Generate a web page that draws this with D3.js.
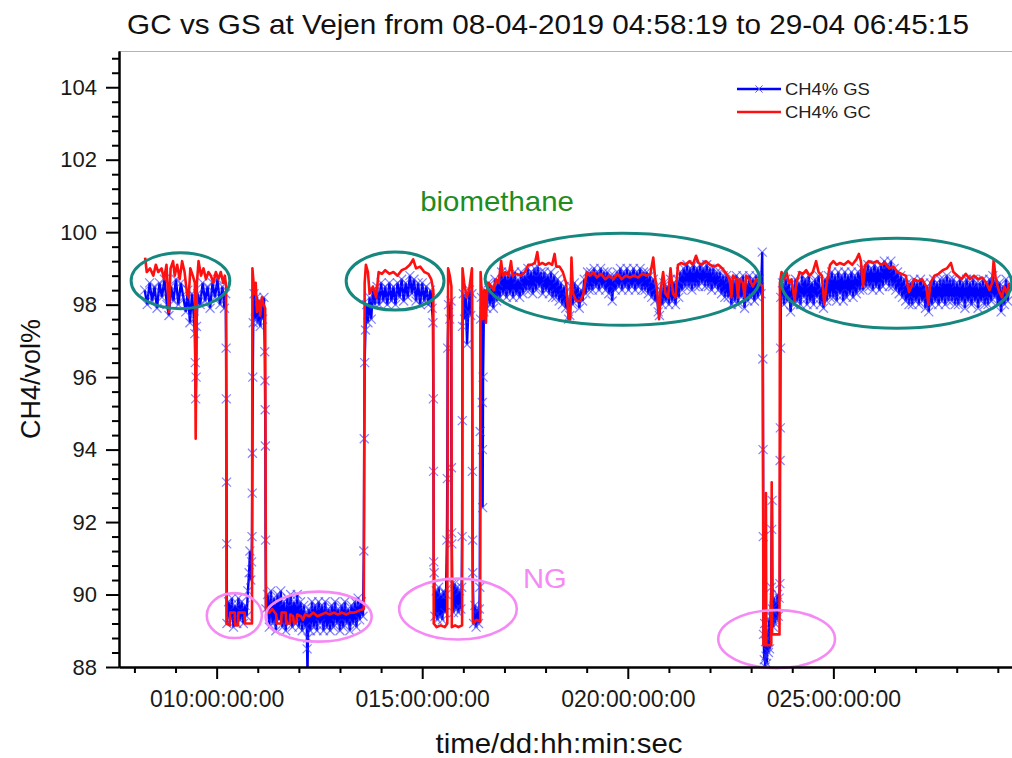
<!DOCTYPE html>
<meta charset="utf-8">
<script src="https://d3js.org/d3.v7.min.js"></script>
<style>
  body { margin: 0; background: #fff; }
  text { font-family: Arial, "Liberation Sans", sans-serif; }
</style>
<div id="chart"></div>
<script>

// CH4 readings as [day of April, CH4 vol%]
var gsReadings = [
  [8.25,98.4],[8.31,98.0],[8.37,98.6],[8.43,98.1],[8.49,98.5],[8.55,97.9],[8.61,98.6],[8.67,98.2],[8.73,98.7],[8.79,98.0],
  [8.84,97.7],[8.89,98.5],[8.95,98.1],[9.01,98.7],[9.07,98.0],[9.13,98.6],[9.19,98.2],[9.25,97.8],[9.30,98.4],[9.35,97.5],
  [9.40,98.3],[9.45,97.6],[9.47,97.2],[9.48,96.4],[9.49,95.4],[9.50,96.0],[9.51,97.4],[9.54,98.3],[9.60,98.0],[9.66,98.6],
  [9.72,98.1],[9.78,98.5],[9.84,97.9],[9.90,98.6],[9.96,98.2],[10.02,98.7],[10.08,98.0],[10.14,98.5],[10.19,97.9],[10.22,98.3],
  [10.23,96.8],[10.235,95.4],[10.24,93.1],[10.245,91.4],
  [10.25,89.2],[10.29,89.8],[10.33,89.3],[10.37,89.9],[10.41,89.1],[10.45,89.7],[10.49,89.2],[10.53,89.9],[10.57,89.3],[10.61,89.8],
  [10.65,89.2],[10.69,89.7],[10.73,89.4],[10.76,90.1],[10.79,90.6],[10.81,91.2],[10.83,90.4],[10.85,90.9],[10.86,91.6],[10.865,92.8],
  [10.87,93.9],[10.88,96.0],[10.89,97.5],[10.91,98.3],[10.94,97.6],[10.97,98.2],[11.00,97.5],[11.03,98.1],[11.06,97.4],[11.09,98.0],
  [11.12,97.6],[11.15,98.2],[11.17,96.7],[11.175,95.9],[11.18,95.1],[11.185,94.1],[11.19,91.5],
  [11.20,89.6],[11.24,90.0],[11.28,89.1],[11.32,90.1],[11.36,89.2],[11.40,89.9],[11.44,89.0],[11.48,90.0],[11.52,89.3],[11.56,90.1],
  [11.60,89.1],[11.64,89.8],[11.68,89.0],[11.72,89.9],[11.76,89.2],[11.80,90.0],[11.84,89.1],[11.88,89.8],[11.92,89.2],[11.96,90.0],
  [12.00,89.1],[12.04,89.8],[12.08,89.0],[12.12,89.7],[12.16,89.1],[12.19,89.5],[12.20,88.5],[12.21,87.8],[12.22,88.8],[12.24,89.6],
  [12.28,89.0],[12.32,89.8],[12.36,89.1],[12.40,89.7],[12.44,89.0],[12.48,89.8],[12.52,89.2],[12.56,89.7],[12.60,89.0],[12.64,89.8],
  [12.68,89.1],[12.72,89.6],[12.76,89.0],[12.80,89.7],[12.84,89.1],[12.88,89.8],[12.92,89.2],[12.96,89.6],[13.00,89.0],[13.04,89.7],
  [13.08,89.1],[13.12,89.8],[13.16,89.2],[13.20,89.6],[13.24,89.0],[13.28,89.7],[13.32,89.2],[13.36,89.8],[13.40,89.1],[13.44,89.9],
  [13.48,89.3],[13.52,89.8],[13.56,89.4],[13.58,91.2],[13.59,94.3],
  [13.60,96.4],[13.62,97.3],[13.65,98.0],[13.68,97.5],[13.72,98.2],[13.76,97.6],[13.80,98.4],[13.85,98.0],[13.90,98.5],[13.95,98.0],
  [14.00,98.6],[14.05,98.1],[14.10,98.5],[14.15,98.0],[14.20,98.6],[14.25,98.1],[14.30,98.5],[14.35,98.0],[14.40,98.6],[14.45,98.2],
  [14.50,98.7],[14.55,98.1],[14.60,98.6],[14.65,98.2],[14.70,98.8],[14.75,98.3],[14.80,98.7],[14.85,98.1],[14.90,98.6],[14.95,98.0],
  [15.00,98.6],[15.05,98.1],[15.10,98.5],[15.15,98.0],[15.20,98.4],[15.24,97.9],[15.26,97.5],[15.27,95.4],[15.275,93.4],[15.28,90.9],
  [15.29,90.6],[15.31,89.4],[15.34,90.1],[15.37,89.3],[15.40,90.2],[15.43,89.4],[15.46,90.0],[15.49,89.3],[15.52,90.1],[15.55,89.5],
  [15.58,90.0],[15.60,91.5],[15.61,93.2],[15.62,96.8],[15.64,98.0],[15.67,97.6],[15.70,98.1],[15.71,93.5],[15.715,91.7],[15.72,91.4],
  [15.73,90.3],[15.76,89.5],[15.79,90.3],[15.82,89.6],[15.85,90.2],[15.88,89.5],[15.91,90.1],[15.94,89.6],[15.96,90.2],[15.97,91.6],
  [15.975,94.8],[15.98,97.4],[16.00,98.3],[16.03,97.6],[16.06,98.2],[16.09,96.9],[16.12,97.8],[16.15,98.4],[16.18,97.7],[16.21,98.3],
  [16.22,93.4],[16.225,91.5],[16.23,90.6],[16.25,89.2],[16.28,89.7],[16.31,89.1],[16.34,89.6],[16.37,89.2],[16.39,89.6],[16.40,90.2],
  [16.41,94.5],[16.42,97.6],[16.44,98.2],[16.46,95.3],[16.465,94.0],[16.47,92.4],[16.48,96.0],[16.50,97.8],
  [16.53,98.4],[16.57,97.9],[16.61,98.6],[16.65,98.0],[16.69,98.5],[16.73,97.9],[16.77,98.7],[16.81,98.1],[16.85,98.6],[16.89,98.2],
  [16.93,98.9],[16.97,98.3],[17.01,98.8],[17.05,98.2],[17.09,98.9],[17.13,98.3],[17.17,98.8],[17.21,98.2],[17.25,98.9],[17.29,98.3],
  [17.33,98.7],[17.37,98.2],[17.41,98.9],[17.45,98.3],[17.49,98.8],[17.53,98.4],[17.57,99.0],[17.61,98.4],[17.65,98.9],[17.69,98.3],
  [17.73,99.0],[17.77,98.4],[17.81,99.05],[17.85,98.5],[17.89,98.9],[17.93,98.3],[17.97,98.9],[18.01,98.4],[18.05,98.8],[18.09,98.3],
  [18.13,98.9],[18.17,98.2],[18.21,98.8],[18.25,98.2],[18.29,98.7],[18.33,98.1],[18.37,98.6],[18.41,98.0],[18.45,98.5],[18.49,97.9],
  [18.53,98.2],[18.56,97.6],[18.59,97.7],[18.62,98.5],[18.66,98.0],[18.70,98.6],[18.74,98.1],[18.78,98.5],[18.82,97.9],[18.86,98.4],
  [18.90,98.1],[18.94,98.7],[18.98,98.3],[19.02,98.9],[19.06,98.4],[19.10,98.9],[19.14,98.4],[19.18,99.0],[19.22,98.5],[19.26,98.9],
  [19.30,98.4],[19.34,99.0],[19.38,98.5],[19.42,98.9],[19.46,98.4],[19.50,98.9],[19.54,98.3],[19.58,98.8],[19.62,98.1],[19.66,98.8],
  [19.70,98.4],[19.74,98.9],[19.78,98.5],[19.82,99.0],[19.86,98.4],[19.90,98.9],[19.94,98.5],[19.98,99.0],[20.02,98.4],[20.06,98.9],
  [20.10,98.5],[20.14,99.0],[20.18,98.4],[20.22,98.9],[20.26,98.5],[20.30,99.0],[20.34,98.4],[20.38,98.9],[20.42,98.4],[20.46,98.9],
  [20.50,98.3],[20.54,98.8],[20.58,98.2],[20.62,98.7],[20.66,98.1],[20.70,98.5],[20.74,97.8],[20.77,97.7],[20.80,98.4],[20.84,98.0],
  [20.88,98.6],[20.92,98.1],[20.96,98.5],[21.00,98.0],[21.04,98.7],[21.08,98.1],[21.12,98.6],[21.16,98.0],[21.20,98.7],[21.24,98.2],
  [21.28,98.9],[21.32,98.4],[21.36,99.0],[21.40,98.5],[21.44,99.1],[21.48,98.5],[21.52,99.0],[21.56,98.4],[21.60,99.1],[21.64,98.5],
  [21.68,99.0],[21.72,98.5],[21.76,99.1],[21.80,98.6],[21.84,99.0],[21.88,98.5],[21.92,99.1],[21.96,98.5],[22.00,99.0],[22.04,98.4],
  [22.08,99.0],[22.12,98.5],[22.16,98.9],[22.20,98.4],[22.24,98.9],[22.28,98.3],[22.32,98.8],[22.36,98.2],[22.40,98.8],[22.44,98.2],
  [22.48,98.7],[22.52,98.0],[22.56,98.7],[22.60,98.1],[22.64,98.8],[22.68,98.0],[22.72,98.7],[22.76,98.2],[22.80,98.8],[22.84,97.9],
  [22.88,98.6],[22.92,98.1],[22.96,98.8],[23.00,98.2],[23.04,98.7],[23.08,98.1],[23.12,98.8],[23.16,98.2],[23.20,98.7],[23.24,98.3],
  [23.27,99.45],[23.285,96.5],[23.29,94.0],[23.295,91.6],
  [23.30,88.9],[23.32,88.2],[23.33,89.2],[23.34,88.0],[23.35,88.7],[23.36,88.3],[23.37,89.0],[23.38,88.1],[23.40,88.8],[23.42,88.4],
  [23.44,89.3],[23.45,88.5],[23.47,89.4],[23.49,90.2],[23.50,91.8],[23.51,92.6],[23.52,89.6],[23.54,89.1],[23.56,89.9],[23.58,89.2],
  [23.60,89.8],[23.62,89.3],[23.64,90.0],[23.66,89.4],[23.68,89.9],[23.70,90.3],[23.705,93.7],[23.71,94.6],[23.715,96.8],[23.72,98.2],
  [23.76,98.6],[23.80,98.0],[23.84,98.7],[23.88,98.1],[23.92,98.6],[23.96,97.8],[24.00,98.5],[24.04,98.0],[24.08,98.7],[24.12,98.1],
  [24.16,98.6],[24.20,98.0],[24.24,98.8],[24.28,98.2],[24.32,98.7],[24.36,98.0],[24.40,98.8],[24.44,98.1],[24.48,98.6],[24.52,98.0],
  [24.56,98.7],[24.60,98.2],[24.64,98.8],[24.68,98.0],[24.72,98.5],[24.76,97.9],[24.80,98.7],[24.84,98.1],[24.88,98.8],[24.92,98.2],
  [24.96,98.9],[25.00,98.2],[25.04,98.8],[25.08,98.1],[25.12,98.9],[25.16,98.3],[25.20,98.8],[25.24,98.1],[25.28,98.9],[25.32,98.2],
  [25.36,98.8],[25.40,98.3],[25.44,98.9],[25.48,98.2],[25.52,98.8],[25.56,98.3],[25.60,98.9],[25.64,98.4],[25.68,99.0],[25.72,98.4],
  [25.76,99.0],[25.80,98.5],[25.84,99.1],[25.88,98.5],[25.92,99.0],[25.96,98.4],[26.00,99.1],[26.04,98.5],[26.08,99.0],[26.12,98.4],
  [26.16,99.1],[26.20,98.5],[26.24,99.2],[26.28,98.6],[26.32,99.1],[26.36,98.5],[26.40,99.2],[26.44,98.5],[26.48,99.0],[26.52,98.4],
  [26.56,98.9],[26.60,98.3],[26.64,98.8],[26.68,98.2],[26.72,98.7],[26.76,98.1],[26.80,98.6],[26.84,98.0],[26.88,98.6],[26.92,98.0],
  [26.96,98.7],[27.00,98.1],[27.04,98.6],[27.08,98.0],[27.12,98.7],[27.16,98.1],[27.20,98.6],[27.24,97.9],[27.28,98.5],[27.32,97.8],
  [27.36,98.6],[27.40,98.0],[27.44,98.7],[27.48,98.1],[27.52,98.6],[27.56,98.0],[27.60,98.7],[27.64,98.1],[27.68,98.7],[27.72,98.0],
  [27.76,98.8],[27.80,98.1],[27.84,98.7],[27.88,98.1],[27.92,98.7],[27.96,98.0],[28.00,98.6],[28.04,98.0],[28.08,98.7],[28.12,98.1],
  [28.16,98.6],[28.20,97.9],[28.24,98.7],[28.28,98.1],[28.32,98.6],[28.36,98.0],[28.40,98.7],[28.44,98.1],[28.48,98.6],[28.52,97.9],
  [28.56,98.6],[28.60,98.1],[28.64,98.7],[28.68,98.0],[28.72,98.6],[28.76,98.0],[28.80,98.7],[28.84,98.1],[28.88,98.8],[28.92,98.2],
  [28.96,98.7],[29.00,98.0],[29.04,98.6],[29.08,97.8],[29.12,98.5],[29.16,98.0],[29.20,98.7],[29.24,98.1],[29.28,98.5]
];

var gcReadings = [
  [8.26,99.3],[8.30,98.9],[8.38,99.0],[8.46,98.8],[8.52,99.1],[8.58,98.9],[8.66,99.0],[8.72,98.7],[8.78,99.1],[8.84,97.8],
  [8.88,99.0],[8.94,99.2],[8.98,98.8],[9.04,99.1],[9.10,98.7],[9.16,99.2],[9.22,98.9],[9.28,98.3],[9.32,98.2],[9.36,99.0],
  [9.42,98.8],[9.47,98.6],[9.49,94.3],[9.52,98.6],[9.56,99.2],[9.62,98.8],[9.68,99.0],[9.74,98.7],[9.80,98.9],[9.86,98.8],
  [9.92,98.6],[9.98,98.9],[10.04,98.7],[10.10,98.9],[10.16,98.6],[10.20,98.8],[10.23,98.5],
  [10.24,89.2],[10.32,89.15],[10.33,89.5],[10.44,89.5],[10.45,89.15],[10.52,89.15],[10.53,89.5],[10.68,89.5],[10.69,89.2],[10.86,89.2],
  [10.87,99.0],[10.92,98.3],[10.95,98.6],[10.98,97.8],[11.02,98.1],[11.06,97.7],[11.10,98.2],[11.14,98.0],[11.18,97.9],
  [11.20,89.55],[11.28,89.5],[11.35,89.6],[11.45,89.45],[11.46,89.2],[11.57,89.2],[11.58,89.5],[11.68,89.5],[11.69,89.2],[11.78,89.2],
  [11.79,89.45],[11.86,89.4],[11.88,89.2],[11.94,89.25],[11.96,89.45],[12.05,89.4],[12.10,89.3],[12.15,89.45],[12.25,89.4],[12.35,89.5],
  [12.45,89.4],[12.55,89.45],[12.65,89.5],[12.75,89.45],[12.85,89.5],[12.95,89.45],[13.05,89.5],[13.15,89.45],[13.25,89.5],[13.35,89.5],
  [13.45,89.55],[13.58,89.6],
  [13.60,98.6],[13.63,99.1],[13.68,98.9],[13.72,98.3],[13.80,98.5],[13.88,98.2],[13.94,98.9],[14.02,98.85],[14.10,98.95],[14.20,98.85],
  [14.30,98.9],[14.40,98.8],[14.50,98.95],[14.60,99.0],[14.70,99.1],[14.78,99.25],[14.85,99.0],[14.95,99.05],[15.05,98.9],[15.15,98.85],
  [15.22,98.7],[15.27,98.4],
  [15.28,89.2],[15.35,89.1],[15.45,89.15],[15.55,89.1],[15.61,89.2],
  [15.63,99.0],[15.67,98.8],[15.71,98.5],
  [15.72,89.1],[15.80,89.15],[15.88,89.1],[15.97,89.15],
  [15.98,99.0],[16.02,98.6],[16.08,98.2],[16.14,98.4],[16.21,99.0],
  [16.23,89.3],[16.25,89.2],[16.32,89.3],[16.41,89.25],
  [16.42,98.9],[16.45,98.3],[16.48,97.6],[16.51,98.4],[16.55,97.5],[16.58,98.4],[16.62,98.6],[16.68,98.5],[16.74,98.4],[16.80,98.7],
  [16.86,98.6],[16.92,99.2],[16.96,98.8],[17.02,98.9],[17.10,98.8],[17.16,99.2],[17.20,98.8],[17.30,98.85],[17.40,98.8],[17.50,98.9],
  [17.58,99.1],[17.66,99.1],[17.74,99.15],[17.80,99.45],[17.84,99.1],[17.92,99.15],[18.00,99.1],[18.08,99.15],[18.16,99.1],[18.22,99.4],
  [18.26,99.05],[18.34,99.05],[18.42,98.9],[18.50,98.6],[18.56,97.6],[18.60,97.6],[18.63,99.3],[18.67,98.3],[18.75,98.1],[18.85,98.1],
  [18.92,98.3],[19.00,98.9],[19.08,98.8],[19.16,98.9],[19.25,98.75],[19.35,98.85],[19.45,98.7],[19.55,98.8],[19.65,98.7],[19.75,98.85],
  [19.85,98.7],[19.95,98.8],[20.05,98.75],[20.15,98.8],[20.25,98.75],[20.35,98.85],[20.45,98.8],[20.55,98.85],[20.62,99.3],[20.66,98.8],
  [20.72,98.3],[20.76,97.6],[20.80,98.4],[20.86,98.9],[20.92,98.3],[20.98,98.2],[21.04,99.0],[21.10,98.3],[21.16,98.2],[21.22,99.1],
  [21.30,99.15],[21.40,99.1],[21.50,99.2],[21.58,99.1],[21.66,99.35],[21.72,99.15],[21.80,99.1],[21.90,99.2],[22.00,99.1],[22.10,99.05],
  [22.20,99.1],[22.30,99.0],[22.40,98.85],[22.48,98.7],[22.52,98.2],[22.56,98.8],[22.64,98.7],[22.68,98.2],[22.72,98.7],[22.80,98.6],
  [22.84,98.2],[22.88,98.8],[22.96,98.7],[23.04,98.5],[23.12,98.7],[23.20,98.6],[23.28,98.5],
  [23.30,88.6],[23.35,88.6],[23.36,92.8],[23.37,88.6],[23.49,88.6],[23.50,93.1],[23.51,88.9],[23.69,88.9],
  [23.70,98.6],[23.74,98.9],[23.80,98.7],[23.86,98.9],[23.92,98.6],[23.98,98.7],[24.06,98.1],[24.10,98.6],[24.18,98.9],[24.26,98.85],
  [24.34,98.95],[24.42,98.8],[24.50,98.9],[24.58,99.2],[24.64,98.9],[24.72,98.8],[24.78,98.0],[24.84,98.6],[24.92,99.1],[25.00,99.2],
  [25.08,99.1],[25.16,99.15],[25.26,99.1],[25.36,99.2],[25.46,99.1],[25.56,99.25],[25.62,99.4],[25.67,99.2],[25.72,98.5],[25.78,99.1],
  [25.86,99.2],[25.96,99.15],[26.06,99.2],[26.16,99.1],[26.26,99.15],[26.36,99.0],[26.46,99.05],[26.56,98.9],[26.66,98.85],[26.76,98.8],
  [26.84,98.35],[26.90,98.5],[26.96,98.7],[27.06,98.65],[27.16,98.7],[27.26,98.5],[27.31,98.0],[27.36,98.6],[27.46,98.8],[27.56,98.85],
  [27.66,98.95],[27.76,99.0],[27.86,99.15],[27.92,98.9],[28.02,98.8],[28.12,98.7],[28.22,98.85],[28.32,98.7],[28.42,98.8],[28.52,98.7],
  [28.62,98.75],[28.72,98.6],[28.80,98.4],[28.86,98.6],[28.90,99.25],[28.95,98.7],[29.02,98.4],[29.10,98.2],[29.16,98.5],[29.22,98.3],
  [29.28,98.6]
];

// axis ticks
var xMajorDays = [10, 15, 20, 25];
var xTickLabels = ["010:00:00:00", "015:00:00:00", "020:00:00:00", "025:00:00:00"];
var xMinorDays = [8, 9, 11, 12, 13, 14, 16, 17, 18, 19, 21, 22, 23, 24, 26, 27, 28, 29];
var yMajorTicks = [88, 90, 92, 94, 96, 98, 100, 102, 104];

// hand-drawn rings: [centre day, centre vol%, half width in days, half height in vol%]
var biomethaneRings = [[9.12, 98.66, 1.20, 0.77], [14.34, 98.65, 1.19, 0.80], [19.87, 98.70, 3.34, 1.27], [26.54, 98.59, 2.80, 1.24]];
var ngRings = [[10.43, 89.42, 0.67, 0.62], [12.48, 89.39, 1.29, 0.69], [15.87, 89.60, 1.43, 0.84], [23.62, 88.77, 1.42, 0.80]];

// set the dimensions and margins of the graph
var margin = {top: 51, right: 0, bottom: 91, left: 119},
    width = 1012 - margin.left - margin.right,
    height = 758 - margin.top - margin.bottom;

var root = d3.select("#chart")
  .append("svg")
    .attr("width", 1012)
    .attr("height", 758);

var svg = root.append("g")
    .attr("transform", "translate(" + margin.left + "," + margin.top + ")");

var x = d3.scaleLinear().domain([7.625, 29.345]).range([0, width]);
var y = d3.scaleLinear().domain([88, 105]).range([height, 0]);

svg.append("clipPath").attr("id", "plotclip")
  .append("rect").attr("width", width).attr("height", height);

// top frame line
svg.append("line")
  .attr("x1", 0).attr("x2", width).attr("y1", 0.5).attr("y2", 0.5)
  .attr("stroke", "#b4b4b4").attr("stroke-width", 1);

var plot = svg.append("g").attr("clip-path", "url(#plotclip)");

var line = d3.line()
  .x(function(d) { return x(d[0]); })
  .y(function(d) { return y(d[1]); });

// GS: line + x markers
plot.append("path")
  .datum(gsReadings)
  .attr("d", line)
  .attr("fill", "none")
  .attr("stroke", "#0000ff")
  .attr("stroke-width", 2.4);

var cross = "M-4.5,-4.5L4.5,4.5M-4.5,4.5L4.5,-4.5";
plot.selectAll("path.gsmark")
  .data(gsReadings)
  .enter()
  .append("path")
  .attr("class", "gsmark")
  .attr("d", cross)
  .attr("transform", function(d) { return "translate(" + x(d[0]) + "," + y(d[1]) + ")"; })
  .attr("fill", "none")
  .attr("stroke", "#3030ff")
  .attr("stroke-opacity", 0.6)
  .attr("stroke-width", 1.2);

// GC on top
plot.append("path")
  .datum(gcReadings)
  .attr("d", line)
  .attr("fill", "none")
  .attr("stroke", "#ff1010")
  .attr("stroke-width", 2.6)
  .attr("stroke-linejoin", "round");

// rings
svg.selectAll("ellipse.bio")
  .data(biomethaneRings)
  .enter()
  .append("ellipse")
  .attr("cx", function(d) { return x(d[0]); })
  .attr("cy", function(d) { return y(d[1]); })
  .attr("rx", function(d) { return x(d[0] + d[2]) - x(d[0]); })
  .attr("ry", function(d) { return y(d[1] - d[3]) - y(d[1]); })
  .attr("fill", "none")
  .attr("stroke", "#16877f")
  .attr("stroke-width", 3);

svg.selectAll("ellipse.ng")
  .data(ngRings)
  .enter()
  .append("ellipse")
  .attr("cx", function(d) { return x(d[0]); })
  .attr("cy", function(d) { return y(d[1]); })
  .attr("rx", function(d) { return x(d[0] + d[2]) - x(d[0]); })
  .attr("ry", function(d) { return y(d[1] - d[3]) - y(d[1]); })
  .attr("fill", "none")
  .attr("stroke", "#f58af5")
  .attr("stroke-width", 2.6);

// axes
var xAxisMajor = d3.axisBottom(x).tickValues(xMajorDays).tickSize(12).tickSizeOuter(0)
  .tickFormat(function(d, i) { return xTickLabels[i]; });
var xAxisMinor = d3.axisBottom(x).tickValues(xMinorDays).tickSize(6).tickSizeOuter(0).tickFormat("");
var yMinor = d3.range(88, 105.01, 0.4).filter(function(v) { return Math.abs(Math.round(v) - v) > 0.01 || Math.round(v) % 2 == 1; });
var yAxisMajor = d3.axisLeft(y).tickValues(yMajorTicks).tickSize(13).tickSizeOuter(0).tickFormat(d3.format("d"));
var yAxisMinor = d3.axisLeft(y).tickValues(yMinor).tickSize(7).tickSizeOuter(0).tickFormat("");

svg.append("g").attr("transform", "translate(0," + height + ")").call(xAxisMinor);
var gx = svg.append("g").attr("transform", "translate(0," + height + ")").call(xAxisMajor);
svg.append("g").call(yAxisMinor);
var gy = svg.append("g").call(yAxisMajor);

svg.selectAll(".domain").attr("stroke", "#000").attr("stroke-width", 2);
svg.selectAll(".tick line").attr("stroke", "#000").attr("stroke-width", 2);

gx.selectAll("text")
  .attr("y", 40).attr("dy", 0)
  .attr("fill", "#1a1a1a")
  .style("font-size", "23px");
gy.selectAll("text")
  .attr("x", -22)
  .attr("dy", "0.32em")
  .attr("fill", "#1a1a1a")
  .style("font-size", "22px");

// texts (slightly widened like the original export)
function label(parent, px, py, str, size, anchor, fill, sx) {
  return parent.append("text")
    .attr("transform", "translate(" + px + "," + py + ") scale(" + sx + ",1)")
    .attr("text-anchor", anchor)
    .attr("fill", fill)
    .style("font-size", size + "px")
    .text(str);
}

label(root, 548, 34, "GC vs GS at Vejen from 08-04-2019 04:58:19 to 29-04 06:45:15", 27, "middle", "#111", 1.1);
label(root, 559, 753, "time/dd:hh:min:sec", 27, "middle", "#111", 1.09);

root.append("text")
  .attr("transform", "translate(40,379) rotate(-90)")
  .attr("text-anchor", "middle")
  .attr("fill", "#111")
  .style("font-size", "27px")
  .text("CH4/vol%");

label(svg, x(14.95), y(100.58), "biomethane", 27, "start", "#1e8c1e", 1.09);
label(svg, x(17.45), y(90.18), "NG", 27, "start", "#f58af5", 1.08);

// legend
var legend = root.append("g");
legend.append("line").attr("x1", 737).attr("x2", 781).attr("y1", 89).attr("y2", 89)
  .attr("stroke", "#0000ff").attr("stroke-width", 2.4);
legend.append("path").attr("d", cross).attr("transform", "translate(759,89) scale(0.8)")
  .attr("fill", "none").attr("stroke", "#5050ff").attr("stroke-width", 1.2);
legend.append("line").attr("x1", 737).attr("x2", 781).attr("y1", 112).attr("y2", 112)
  .attr("stroke", "#ff1010").attr("stroke-width", 2.4);
label(legend, 785, 95, "CH4% GS", 16, "start", "#222", 1.15);
label(legend, 785, 118, "CH4% GC", 16, "start", "#222", 1.15);

</script>
